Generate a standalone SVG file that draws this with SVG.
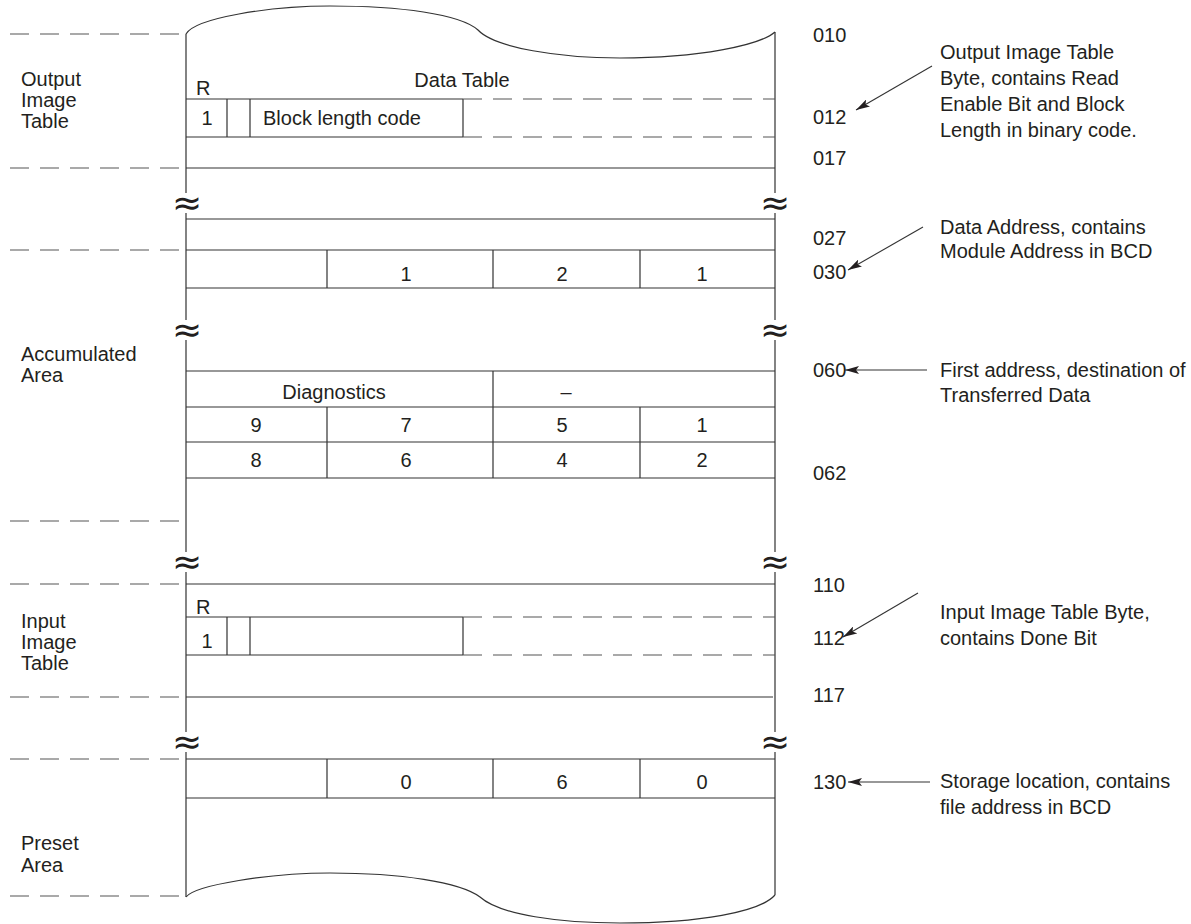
<svg xmlns="http://www.w3.org/2000/svg" width="1191" height="924" viewBox="0 0 1191 924">
<style>
.t{font-family:"Liberation Sans",Arial,sans-serif;font-size:20px;fill:#231f20}
.m{text-anchor:middle}
.ln{stroke:#333;stroke-width:1.2;fill:none}
.ds{stroke:#555;stroke-width:1.2;fill:none;stroke-dasharray:19 11}
.ap{font-family:"DejaVu Sans",sans-serif;font-size:36px;fill:#231f20;text-anchor:middle}
.ar{stroke:#333;stroke-width:1.1;fill:none;marker-end:url(#ah)}
</style>
<defs>
<marker id="ah" markerUnits="userSpaceOnUse" viewBox="0 0 14 8" refX="14" refY="4" markerWidth="14" markerHeight="8" orient="auto">
<path d="M0,0 L14,4 L0,8 L3,4 z" fill="#231f20"/>
</marker>
</defs>
<rect width="1191" height="924" fill="#fff"/>

<g id="frame">
<path class="ln" d="M186,34 C195,18 270,6 330,6 C400,6 460,14 478,30 C495,48 560,58 620,58 C700,58 760,45 775,32"/>
<path class="ln" d="M186,897 C195,885 270,873 330,873 C400,873 460,882 480,897 C500,915 560,923 620,923 C700,923 760,912 775,895"/>
<path class="ln" d="M186,34 V193 M186,213 V320 M186,340 V552 M186,572 V732 M186,752 V897"/>
<path class="ln" d="M775,32 V193 M775,213 V320 M775,340 V552 M775,572 V732 M775,752 V895"/>
<path class="ds" d="M10,34 H183 M10,168 H183 M10,250 H183 M10,521 H183 M10,584 H183 M10,697 H183 M10,759 H183 M10,896 H183"/>
<text class="ap" x="187" y="215">≈</text>
<text class="ap" x="775" y="215">≈</text>
<text class="ap" x="187" y="342">≈</text>
<text class="ap" x="775" y="342">≈</text>
<text class="ap" x="187" y="574">≈</text>
<text class="ap" x="775" y="574">≈</text>
<text class="ap" x="187" y="754">≈</text>
<text class="ap" x="775" y="754">≈</text>
</g>

<g id="output-image-table">
<text class="t" x="21" y="86">Output</text>
<text class="t" x="21" y="107">Image</text>
<text class="t" x="21" y="128">Table</text>
<text class="t" x="196" y="95">R</text>
<text class="t m" x="462" y="87">Data Table</text>
<path class="ln" d="M186,99 H463 M186,137 H463 M227,99 V137 M250,99 V137 M463,99 V137 M186,168 H775"/>
<path class="ds" d="M463,99 H775 M463,137 H775"/>
<text class="t m" x="207" y="125">1</text>
<text class="t" x="263" y="125">Block length code</text>
</g>

<g id="data-address">
<path class="ln" d="M186,219 H775 M186,250 H775 M186,288 H775 M327,250 V288 M493,250 V288 M640,250 V288"/>
<text class="t m" x="406" y="281">1</text>
<text class="t m" x="562" y="281">2</text>
<text class="t m" x="702" y="281">1</text>
</g>

<g id="accumulated-area">
<text class="t" x="21" y="361">Accumulated</text>
<text class="t" x="21" y="382">Area</text>
<path class="ln" d="M186,371 H775 M186,407 H775 M186,442 H775 M186,478 H775 M493,371 V478 M327,407 V478 M640,407 V478"/>
<text class="t m" x="334" y="399">Diagnostics</text>
<text class="t m" x="566" y="399">–</text>
<text class="t m" x="256" y="432">9</text>
<text class="t m" x="406" y="432">7</text>
<text class="t m" x="562" y="432">5</text>
<text class="t m" x="702" y="432">1</text>
<text class="t m" x="256" y="467">8</text>
<text class="t m" x="406" y="467">6</text>
<text class="t m" x="562" y="467">4</text>
<text class="t m" x="702" y="467">2</text>
</g>

<g id="input-image-table">
<text class="t" x="21" y="628">Input</text>
<text class="t" x="21" y="649">Image</text>
<text class="t" x="21" y="670">Table</text>
<path class="ln" d="M186,584 H775 M186,617 H463 M186,655 H463 M227,617 V655 M250,617 V655 M463,617 V655 M186,697 H773"/>
<path class="ds" d="M463,617 H775 M463,655 H775"/>
<text class="t" x="196" y="614">R</text>
<text class="t m" x="207" y="648">1</text>
</g>

<g id="preset-area">
<text class="t" x="21" y="850">Preset</text>
<text class="t" x="21" y="872">Area</text>
<path class="ln" d="M186,759 H775 M186,798 H775 M327,759 V798 M493,759 V798 M640,759 V798"/>
<text class="t m" x="406" y="789">0</text>
<text class="t m" x="562" y="789">6</text>
<text class="t m" x="702" y="789">0</text>
</g>

<g id="addresses">
<text class="t" x="813" y="42">010</text>
<text class="t" x="813" y="124">012</text>
<text class="t" x="813" y="165">017</text>
<text class="t" x="813" y="245">027</text>
<text class="t" x="813" y="279">030</text>
<text class="t" x="813" y="377">060</text>
<text class="t" x="813" y="480">062</text>
<text class="t" x="813" y="592">110</text>
<text class="t" x="813" y="645">112</text>
<text class="t" x="813" y="702">117</text>
<text class="t" x="813" y="789">130</text>
</g>

<g id="note-output">
<text class="t" x="940" y="59">Output Image Table</text>
<text class="t" x="940" y="85">Byte, contains Read</text>
<text class="t" x="940" y="111">Enable Bit and Block</text>
<text class="t" x="940" y="137">Length in binary code.</text>
</g>
<g id="note-data-address">
<text class="t" x="940" y="234">Data Address, contains</text>
<text class="t" x="940" y="258">Module Address in BCD</text>
</g>
<g id="note-first-address">
<text class="t" x="940" y="377">First address, destination of</text>
<text class="t" x="940" y="402">Transferred Data</text>
</g>
<g id="note-input">
<text class="t" x="940" y="619">Input Image Table Byte,</text>
<text class="t" x="940" y="645">contains Done Bit</text>
</g>
<g id="note-storage">
<text class="t" x="940" y="788">Storage location, contains</text>
<text class="t" x="940" y="814">file address in BCD</text>
</g>

<g id="connectors">
<line class="ar" x1="932" y1="66" x2="856" y2="110"/>
<line class="ar" x1="923" y1="227" x2="848" y2="270"/>
<line class="ar" x1="927" y1="370" x2="845" y2="370"/>
<line class="ar" x1="918" y1="593" x2="843" y2="637"/>
<line class="ar" x1="930" y1="782" x2="848" y2="782"/>
</g>
</svg>
